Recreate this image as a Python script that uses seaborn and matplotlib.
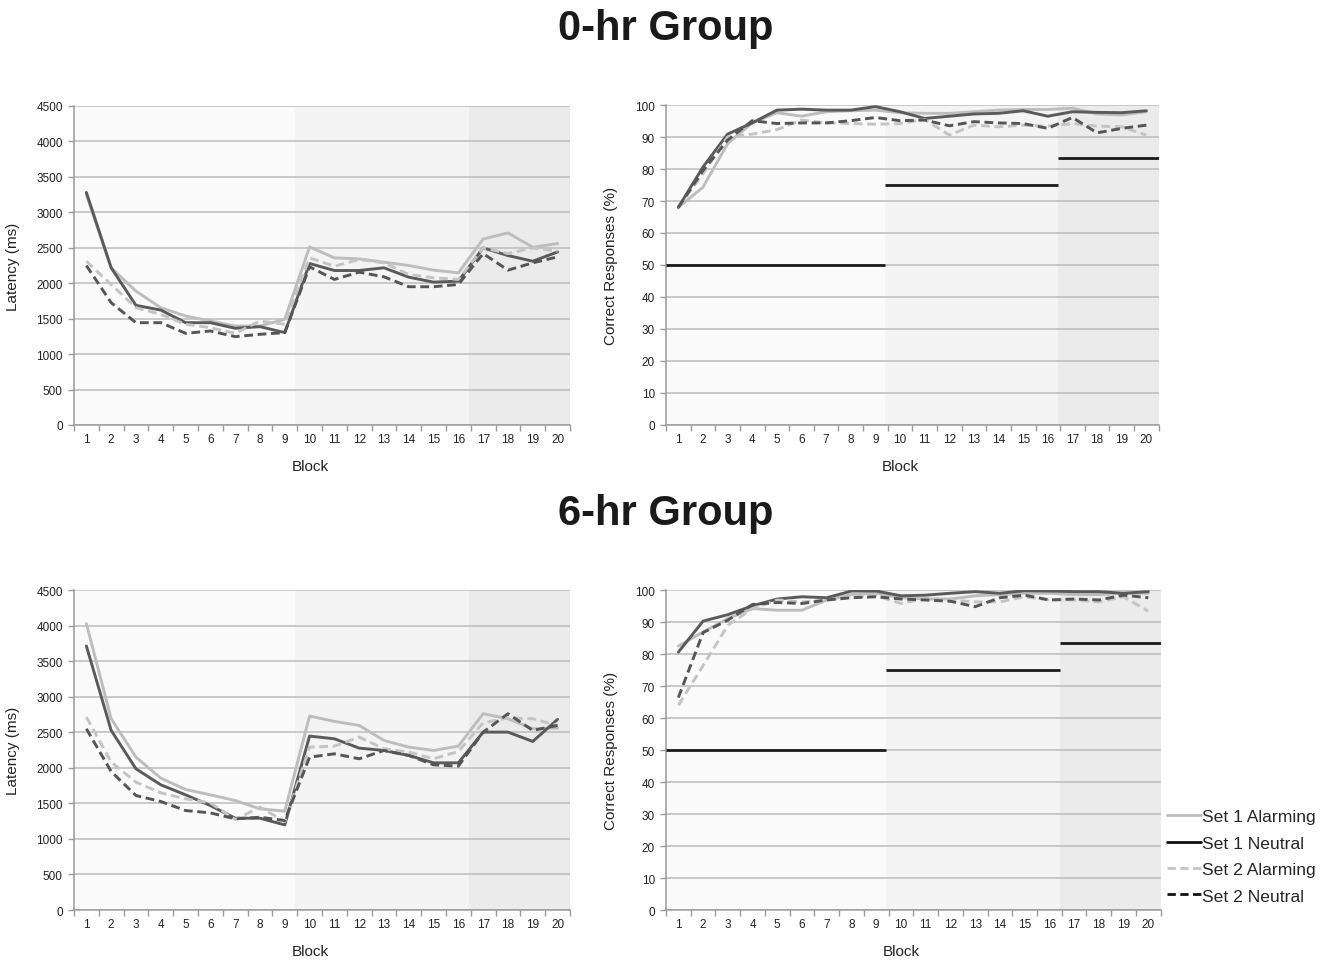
import numpy as np
import pandas as pd
import seaborn as sns
import matplotlib.pyplot as plt
from matplotlib.lines import Line2D

blocks = list(range(1, 21))

# latency (ms), 0-hr group
lat0_s1_alarm = [3250, 2217, 1888, 1654, 1537, 1467, 1396, 1396, 1490, 2512,
                 2357, 2343, 2296, 2250, 2184, 2146, 2624, 2709, 2507, 2559]
lat0_s1_neut = [3280, 2217, 1687, 1621, 1443, 1443, 1364, 1387, 1303, 2278,
                2179, 2179, 2217, 2085, 2015, 2029, 2498, 2390, 2310, 2441]
lat0_s2_alarm = [2310, 1982, 1654, 1560, 1420, 1373, 1293, 1467, 1420, 2357,
                 2240, 2334, 2287, 2123, 2076, 2053, 2498, 2418, 2498, 2451]
lat0_s2_neut = [2249, 1725, 1443, 1443, 1293, 1326, 1246, 1279, 1303, 2231,
                2053, 2156, 2090, 1950, 1950, 1982, 2418, 2184, 2287, 2371]

# correct responses (%), 0-hr group
acc0_s1_alarm = [68.0, 74.3, 87.9, 94.4, 97.6, 96.5, 97.9, 98.2, 98.4, 97.6,
                 97.4, 97.4, 97.9, 98.4, 98.6, 98.6, 99.0, 97.2, 96.9, 97.9]
acc0_s1_neut = [68.0, 80.6, 90.9, 94.4, 98.4, 98.7, 98.4, 98.4, 99.5, 97.9,
                95.8, 96.5, 97.2, 97.4, 98.2, 96.5, 97.9, 97.7, 97.6, 98.2]
acc0_s2_alarm = [68.0, 78.5, 90.0, 90.9, 92.3, 95.3, 94.4, 94.2, 94.0, 94.2,
                 95.5, 90.6, 93.7, 93.2, 93.7, 93.4, 94.2, 93.4, 93.2, 90.6]
acc0_s2_neut = [68.0, 79.5, 89.0, 95.1, 94.2, 94.4, 94.4, 95.1, 96.1, 95.1,
                95.3, 93.5, 94.8, 94.4, 94.2, 92.7, 96.1, 91.3, 92.7, 93.7]

# latency (ms), 6-hr group
lat6_s1_alarm = [4028, 2690, 2150, 1854, 1695, 1620, 1540, 1423, 1390, 2728,
                 2653, 2596, 2385, 2291, 2244, 2305, 2761, 2690, 2549, 2560]
lat6_s1_neut = [3714, 2526, 1986, 1761, 1620, 1469, 1291, 1291, 1197, 2446,
                2408, 2277, 2244, 2174, 2070, 2070, 2502, 2502, 2371, 2681]
lat6_s2_alarm = [2714, 2080, 1798, 1648, 1563, 1507, 1272, 1446, 1244, 2291,
                 2305, 2432, 2268, 2221, 2127, 2230, 2634, 2700, 2690, 2596]
lat6_s2_neut = [2549, 1948, 1610, 1526, 1399, 1366, 1282, 1305, 1258, 2150,
                2197, 2127, 2244, 2174, 2042, 2024, 2502, 2761, 2526, 2596]

# correct responses (%), 6-hr group
acc6_s1_alarm = [82.5, 86.9, 91.1, 94.2, 93.7, 93.7, 96.9, 98.6, 99.0, 97.6,
                 97.2, 97.2, 98.2, 98.6, 99.0, 99.0, 98.6, 98.6, 99.0, 99.0]
acc6_s1_neut = [80.6, 90.3, 92.3, 95.1, 97.2, 97.9, 97.6, 99.7, 99.7, 98.2,
                98.4, 99.0, 99.5, 99.0, 99.8, 99.7, 99.5, 99.5, 99.0, 99.5]
acc6_s2_alarm = [64.0, 76.4, 89.0, 94.2, 96.9, 96.3, 96.9, 97.9, 98.2, 95.8,
                 97.4, 96.9, 96.3, 96.3, 97.9, 96.9, 96.9, 96.3, 97.9, 93.4]
acc6_s2_neut = [66.4, 86.7, 90.6, 95.5, 96.1, 95.8, 96.9, 97.6, 97.9, 97.2,
                96.9, 96.5, 94.8, 97.6, 98.4, 96.9, 97.2, 96.9, 98.4, 97.6]

series_names = ["Set 1 Alarming", "Set 1 Neutral", "Set 2 Alarming", "Set 2 Neutral"]
phase_edges = [0.5, 9.4, 16.42, 20.5]
chance_levels = [50, 75, 83.3]

sns.set_theme(style="white")
plt.rcParams['font.family'] = ['Liberation Sans', 'DejaVu Sans']

line_col = {"Set 1 Alarming": "#bdbdbd", "Set 1 Neutral": "#5a5a5a",
            "Set 2 Alarming": "#c4c4c4", "Set 2 Neutral": "#555555"}
line_dash = {"Set 1 Alarming": "-", "Set 1 Neutral": "-",
             "Set 2 Alarming": (0, (3, 1.6)), "Set 2 Neutral": (0, (3, 1.6))}
shade = ["#fafafa", "#f3f4f3", "#ebebeb"]


def make_df(vals):
    rows = []
    for name, v in zip(series_names, vals):
        for b, y in zip(blocks, v):
            rows.append({"Block": b, "value": y, "series": name})
    return pd.DataFrame(rows)


def draw_panel(ax, vals, ymax, ystep, ylabel, chance=False):
    ax.set_facecolor("white")
    for i in range(3):
        ax.axvspan(phase_edges[i], phase_edges[i + 1], color=shade[i], lw=0, zorder=0)
    ax.set_xlim(0.5, 20.5)
    ax.set_ylim(0, ymax)
    ax.set_yticks(np.arange(0, ymax + 1, ystep))
    ax.yaxis.grid(True, color="#bcbcbc", lw=1.1, zorder=1)
    ax.set_axisbelow(True)
    df = make_df(vals)
    for name in series_names:
        sub = df[df["series"] == name]
        sns.lineplot(data=sub, x="Block", y="value", ax=ax, color=line_col[name],
                     linestyle=line_dash[name], lw=2.1, legend=False, zorder=3)
    if chance:
        for i, c in enumerate(chance_levels):
            ax.hlines(c, phase_edges[i], phase_edges[i + 1], color="#1a1a1a", lw=2.0, zorder=4)
    # category axis: labels at centers, ticks on boundaries
    ax.set_xticks(blocks)
    ax.set_xticklabels([str(b) for b in blocks], fontsize=8.5, color="#222222")
    ax.set_xticks(np.arange(0.5, 21, 1), minor=True)
    ax.tick_params(axis="x", which="major", length=0, pad=6)
    ax.tick_params(axis="x", which="minor", length=4, color="#9a9a9a", width=1, direction="out", bottom=True)
    ax.tick_params(axis="y", which="major", length=4, color="#9a9a9a", width=1, direction="out",
                   left=True, labelsize=8.5, labelcolor="#222222", pad=4)
    for s in ["top", "right"]:
        ax.spines[s].set_visible(False)
    for s in ["left", "bottom"]:
        ax.spines[s].set_color("#9a9a9a")
        ax.spines[s].set_linewidth(1.1)
    ax.set_xlabel("Block", fontsize=11, labelpad=10, color="#222222")
    ax.xaxis.label.set_x(0.476)
    ax.set_ylabel(ylabel, fontsize=11, labelpad=12, color="#222222")


fig = plt.figure(figsize=(13.28, 9.62), dpi=100)
ax1 = fig.add_axes([0.0557, 0.5572, 0.3735, 0.3316])
ax2 = fig.add_axes([0.5015, 0.5572, 0.371, 0.3326])
ax3 = fig.add_axes([0.0557, 0.053, 0.3735, 0.3326])
ax4 = fig.add_axes([0.5015, 0.053, 0.3725, 0.3326])

draw_panel(ax1, [lat0_s1_alarm, lat0_s1_neut, lat0_s2_alarm, lat0_s2_neut], 4500, 500, "Latency (ms)")
draw_panel(ax2, [acc0_s1_alarm, acc0_s1_neut, acc0_s2_alarm, acc0_s2_neut], 100, 10,
           "Correct Responses (%)", chance=True)
draw_panel(ax3, [lat6_s1_alarm, lat6_s1_neut, lat6_s2_alarm, lat6_s2_neut], 4500, 500, "Latency (ms)")
draw_panel(ax4, [acc6_s1_alarm, acc6_s1_neut, acc6_s2_alarm, acc6_s2_neut], 100, 10,
           "Correct Responses (%)", chance=True)

fig.text(0.501, 0.970, "0-hr Group", ha="center", va="center", fontsize=30, fontweight="bold", color="#1a1a1a")
fig.text(0.501, 0.466, "6-hr Group", ha="center", va="center", fontsize=30, fontweight="bold", color="#1a1a1a")

handles = [Line2D([], [], color="#bdbdbd", lw=2, ls="-"),
           Line2D([], [], color="#111111", lw=2, ls="-"),
           Line2D([], [], color="#c4c4c4", lw=2, ls=(0, (3, 1.6))),
           Line2D([], [], color="#111111", lw=2, ls=(0, (3, 1.6)))]
fig.legend(handles, series_names, loc="upper left", bbox_to_anchor=(0.879, 0.158),
           frameon=False, fontsize=12.6, handlelength=1.9, handletextpad=0.1,
           labelspacing=0.64, borderaxespad=0, borderpad=0)

fig.savefig("out.png", dpi=100)
